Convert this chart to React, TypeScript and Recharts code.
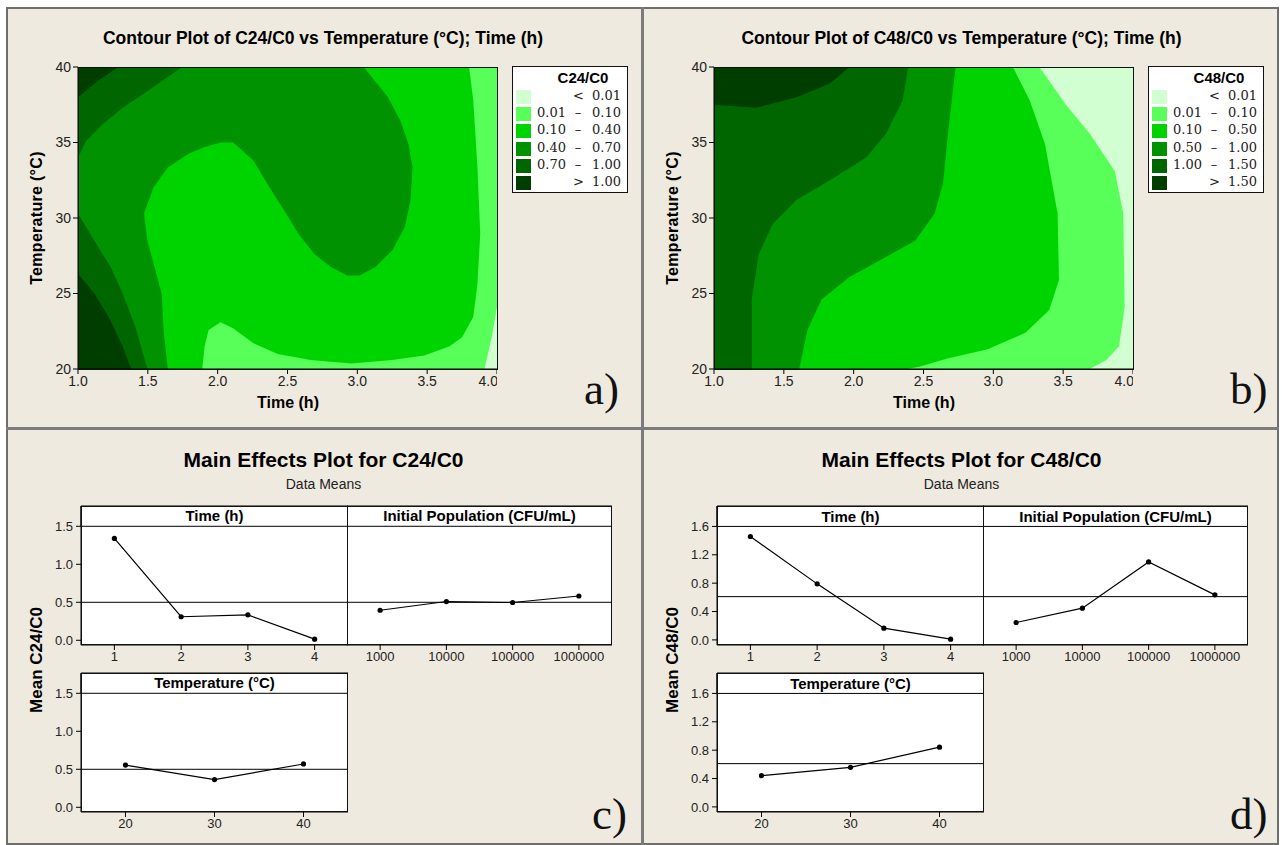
import React from 'react'
import {
  ComposedChart,
  LineChart,
  Line,
  Area,
  XAxis,
  YAxis,
  CartesianGrid,
  ReferenceArea,
  ReferenceLine,
} from 'recharts'

// ---- contour plot data (boundaries, Time h / Temperature °C) ----
const timeTicks = [1, 1.5, 2, 2.5, 3, 3.5, 4]
const tempTicks = [20, 25, 30, 35, 40]

const c24Labels = [
  ['', '<', '0.01'],
  ['0.01', '–', '0.10'],
  ['0.10', '–', '0.40'],
  ['0.40', '–', '0.70'],
  ['0.70', '–', '1.00'],
  ['', '>', '1.00'],
]
const c48Labels = [
  ['', '<', '0.01'],
  ['0.01', '–', '0.10'],
  ['0.10', '–', '0.50'],
  ['0.50', '–', '1.00'],
  ['1.00', '–', '1.50'],
  ['', '>', '1.50'],
]
const levelColors = ['#d2ffd2', '#58ff58', '#00d400', '#009200', '#006600', '#003e00']

// each region: the area at or above a contour level, as a closed outline
const fullRect = [[1, 20], [4, 20], [4, 40], [1, 40], [1, 20]]

const c24Above001 = [[1, 20], [3.91, 20], [3.96, 22], [4, 24.1], [4, 40], [1, 40], [1, 20]]
const c24Above010 = [
  [1, 20], [1.89, 20], [1.906, 21.47], [1.935, 22.58], [2.02, 23.1], [2.11, 22.7], [2.256, 21.7],
  [2.43, 21.0], [2.665, 20.6], [2.957, 20.37], [3.25, 20.6], [3.48, 20.9], [3.66, 21.5], [3.75, 22.1],
  [3.83, 23.45], [3.86, 25.65], [3.88, 28.95], [3.86, 33.35], [3.83, 37.8], [3.8, 40], [1, 40], [1, 20],
]
const c24Above040 = [
  [1, 20], [1.643, 20], [1.613, 22.58], [1.599, 25.0], [1.497, 28.5], [1.473, 30.3], [1.54, 32.0],
  [1.643, 33.35], [1.789, 34.24], [1.906, 34.7], [2.022, 35.0], [2.11, 35.0], [2.256, 33.8], [2.373, 32.0],
  [2.49, 30.3], [2.577, 28.95], [2.694, 27.6], [2.81, 26.75], [2.928, 26.2], [3.015, 26.2], [3.13, 26.75],
  [3.25, 27.85], [3.34, 29.4], [3.38, 31.15], [3.395, 33.35], [3.366, 34.9], [3.31, 36.4], [3.22, 38.0],
  [3.045, 40], [1, 40], [1, 20],
]
const c24Above070Low = [[1, 20], [1.497, 20], [1.41, 22.8], [1.32, 25.0], [1.234, 26.75], [1.117, 28.5], [1, 30.3], [1, 20]]
const c24Above070High = [[1, 34.0], [1.058, 35.1], [1.175, 36.2], [1.32, 37.3], [1.497, 38.4], [1.745, 40], [1, 40], [1, 34.0]]
const c24Above100Low = [[1, 20], [1.38, 20], [1.32, 21.5], [1.22, 23.45], [1.117, 25], [1, 26.3], [1, 20]]
const c24Above100High = [[1, 38.0], [1.146, 39.1], [1.29, 40], [1, 40], [1, 38.0]]

const c48Above001 = [
  [1, 20], [3.69, 20], [3.81, 20.6], [3.9, 21.5], [3.94, 24.1], [3.93, 30.3], [3.87, 33.1], [3.69, 35.6],
  [3.52, 37.5], [3.33, 40], [1, 40], [1, 20],
]
const c48Above010 = [
  [1, 20], [2.38, 20], [2.47, 20.15], [2.67, 20.7], [2.96, 21.3], [3.23, 22.4], [3.4, 23.9], [3.47, 25.9],
  [3.46, 30.3], [3.37, 34.9], [3.26, 37.8], [3.14, 40], [1, 40], [1, 20],
]
const c48Above050 = [
  [1, 20], [1.61, 20], [1.67, 22.6], [1.77, 24.6], [1.97, 26.1], [2.15, 27], [2.44, 28.5], [2.58, 30.3],
  [2.64, 32.3], [2.68, 36], [2.73, 40], [1, 40], [1, 20],
]
const c48Above100 = [
  [1, 20], [1.27, 20], [1.27, 24.6], [1.32, 27.6], [1.42, 29.6], [1.59, 31.2], [1.83, 32.5], [2.09, 34],
  [2.23, 35.56], [2.35, 37.76], [2.39, 40], [1, 40], [1, 20],
]
const c48Above150 = [[1, 37.5], [1.3, 37.3], [1.59, 38], [1.83, 38.9], [1.97, 40], [1, 40], [1, 37.5]]

// ---- main effects data ----
const timeLevels = [1, 2, 3, 4]
const popLabels = ['1000', '10000', '100000', '1000000']
const tempLevels = [20, 30, 40]

const c24Time = [1.34, 0.31, 0.335, 0.015]
const c24Pop = [0.395, 0.51, 0.497, 0.583]
const c24Temp = [0.555, 0.365, 0.57]
const c24Mean = 0.5

const c48Time = [1.458, 0.79, 0.165, 0.01]
const c48Pop = [0.245, 0.447, 1.1, 0.635]
const c48Temp = [0.44, 0.558, 0.842]
const c48Mean = 0.61

const sans = "'Liberation Sans', Arial, sans-serif"
const panelBg = '#efeadf'

const toPts = (poly: number[][]) => poly.map(([x, y]) => ({ x, y }))

type Region = { pts: number[][]; color: string }

const ContourPlot = ({ left, regions }: { left: number; regions: Region[] }) => (
  <ComposedChart
    width={459}
    height={352}
    margin={{ top: 10, right: 0, bottom: 0, left: 0 }}
    style={{ position: 'absolute', left: left - 40, top: 57 }}
  >
    <XAxis
      type="number"
      dataKey="x"
      domain={[1, 4]}
      ticks={timeTicks}
      tickFormatter={(v: number) => v.toFixed(1)}
      allowDataOverflow
      height={40}
      tickSize={5}
      tickMargin={2}
      stroke="#000"
      tick={{ fontSize: 14, fill: '#222', fontFamily: sans }}
    />
    <YAxis
      type="number"
      domain={[20, 40]}
      ticks={tempTicks}
      allowDataOverflow
      width={40}
      tickSize={5}
      tickMargin={2}
      stroke="#000"
      tick={{ fontSize: 14, fill: '#222', fontFamily: sans }}
    />
    {regions.map((r, i) => (
      <Area
        key={i}
        data={toPts(r.pts)}
        dataKey="y"
        type="linear"
        fill={r.color}
        fillOpacity={1}
        stroke="none"
        dot={false}
        activeDot={false}
        isAnimationActive={false}
      />
    ))}
  </ComposedChart>
)

const serif = "13px 'DejaVu Serif', serif"

const ContourLegend = ({ left, title, rows }: { left: number; title: string; rows: string[][] }) => (
  <div
    style={{
      position: 'absolute', left, top: 66, width: 116, height: 127, boxSizing: 'border-box',
      border: '1.5px solid #111', background: '#fff',
    }}
  >
    <div style={{ position: 'absolute', left: 12, width: 116, top: 2, textAlign: 'center', font: `bold 15px ${sans}` }}>
      {title}
    </div>
    {rows.map((r, i) => (
      <div key={i} style={{ position: 'absolute', top: 23 + i * 17.2, left: 0, width: 116, height: 14 }}>
        <div style={{ position: 'absolute', left: 3, top: 0, width: 15, height: 14, background: levelColors[i] }} />
        <div style={{ position: 'absolute', right: 63, top: -2, font: serif, color: '#222' }}>{r[0]}</div>
        <div style={{ position: 'absolute', left: 60, width: 10, textAlign: 'center', top: -2, font: serif, color: '#222' }}>{r[1]}</div>
        <div style={{ position: 'absolute', left: 79, top: -2, font: serif, color: '#222' }}>{r[2]}</div>
      </div>
    ))}
  </div>
)

type EffectProps = {
  left: number
  top: number
  width: number
  title: string
  xs: number[]
  ys: number[]
  xDomain: [number, number]
  xTicks: number[]
  fmt?: (v: number) => string
  yDomain: [number, number]
  yTicks: number[]
  headerFrom: number
  mean: number
  showY: boolean
}

const EffectPanel = (p: EffectProps) => {
  const data = p.xs.map((x, i) => ({ x, y: p.ys[i] }))
  const yw = p.showY ? 40 : 0
  const h = 139
  return (
    <>
      <LineChart
        width={p.width + yw}
        height={h + 38}
        data={data}
        margin={{ top: 8, right: 0, bottom: 0, left: 0 }}
        style={{ position: 'absolute', left: p.left - yw, top: p.top - 8 }}
      >
        <CartesianGrid horizontal={false} vertical={false} fill="#fff" />
        <XAxis
          type="number"
          dataKey="x"
          domain={p.xDomain}
          ticks={p.xTicks}
          tickFormatter={p.fmt}
          allowDataOverflow
          height={30}
          tickSize={5}
          tickMargin={2}
          stroke="#000"
          tick={{ fontSize: 13, fill: '#222', fontFamily: sans }}
        />
        <YAxis
          type="number"
          domain={p.yDomain}
          ticks={p.yTicks}
          tickFormatter={(v: number) => v.toFixed(1)}
          allowDataOverflow
          hide={!p.showY}
          width={40}
          tickSize={5}
          tickMargin={3}
          stroke="#000"
          tick={{ fontSize: 13, fill: '#222', fontFamily: sans }}
        />
        <ReferenceArea
          y1={p.headerFrom}
          y2={p.yDomain[1]}
          fill="#fff"
          fillOpacity={1}
          stroke="#000"
          strokeWidth={1}
          ifOverflow="visible"
          label={{ value: p.title, position: 'center', fill: '#000', fontSize: 15, fontWeight: 700, fontFamily: sans }}
        />
        <ReferenceLine y={p.mean} stroke="#000" strokeWidth={1} />
        <Line
          dataKey="y"
          type="linear"
          stroke="#000"
          strokeWidth={1.2}
          dot={{ r: 2.6, fill: '#000', stroke: '#000', strokeWidth: 0 }}
          activeDot={false}
          isAnimationActive={false}
        />
      </LineChart>
      <div
        style={{
          position: 'absolute', left: p.left, top: p.top, width: p.width, height: h,
          border: '1.5px solid #111', boxSizing: 'border-box', pointerEvents: 'none',
        }}
      />
    </>
  )
}

const popFmt = (v: number) => popLabels[v - 1] ?? ''
const popIdx = popLabels.map((_, i) => i + 1)

const Text = ({ style, children }: { style: React.CSSProperties; children: React.ReactNode }) => (
  <div style={{ position: 'absolute', whiteSpace: 'nowrap', ...style }}>{children}</div>
)

const PanelLetter = ({ left, top, ch }: { left: number; top: number; ch: string }) => (
  <Text style={{ left, top, font: "45px 'Liberation Serif', 'Times New Roman', serif", lineHeight: '45px', color: '#111' }}>
    {ch}
  </Text>
)

const App = () => {
  const c24Regions: Region[] = [
    { pts: fullRect, color: levelColors[0] },
    { pts: c24Above001, color: levelColors[1] },
    { pts: c24Above010, color: levelColors[2] },
    { pts: c24Above040, color: levelColors[3] },
    { pts: c24Above070Low, color: levelColors[4] },
    { pts: c24Above070High, color: levelColors[4] },
    { pts: c24Above100Low, color: levelColors[5] },
    { pts: c24Above100High, color: levelColors[5] },
  ]
  const c48Regions: Region[] = [
    { pts: fullRect, color: levelColors[0] },
    { pts: c48Above001, color: levelColors[1] },
    { pts: c48Above010, color: levelColors[2] },
    { pts: c48Above050, color: levelColors[3] },
    { pts: c48Above100, color: levelColors[4] },
    { pts: c48Above150, color: levelColors[5] },
  ]
  const dom24: [number, number] = [-0.062, 1.767]
  const dom48: [number, number] = [-0.072, 1.888]
  const ticks24 = [0, 0.5, 1, 1.5]
  const ticks48 = [0, 0.4, 0.8, 1.2, 1.6]

  const ctTitle = `bold 17.5px ${sans}`
  const axTitle = `bold 16px ${sans}`
  const meTitle = `bold 21px ${sans}`

  return (
    <div style={{ position: 'absolute', left: 0, top: 0, width: 1282, height: 845, background: '#fff', fontFamily: sans }}>
      {/* panel backgrounds and frame */}
      <div style={{ position: 'absolute', left: 6, top: 7, width: 1273, height: 838, background: panelBg, border: '2px solid #6e6e6e', boxSizing: 'border-box' }} />
      <div style={{ position: 'absolute', left: 641, top: 7, width: 3, height: 838, background: '#7b7b7b' }} />
      <div style={{ position: 'absolute', left: 6, top: 427, width: 1273, height: 3, background: '#7b7b7b' }} />

      {/* a) */}
      <Text style={{ left: 0, width: 646, top: 28, textAlign: 'center', font: ctTitle }}>
        Contour Plot of C24/C0 vs Temperature (°C); Time (h)
      </Text>
      <ContourPlot left={78} regions={c24Regions} />
      <div style={{ position: 'absolute', left: 78, top: 67, width: 420, height: 303, border: '1px solid #111', boxSizing: 'border-box' }} />
      <Text style={{ left: 78, width: 420, top: 394, textAlign: 'center', font: axTitle }}>Time (h)</Text>
      <Text style={{ left: 37, top: 218, transform: 'translate(-50%, -50%) rotate(-90deg)', font: axTitle, letterSpacing: '0.3px' }}>
        Temperature (°C)
      </Text>
      <ContourLegend left={512} title="C24/C0" rows={c24Labels} />
      <PanelLetter left={584} top={367} ch="a)" />

      {/* b) */}
      <Text style={{ left: 641, width: 641, top: 28, textAlign: 'center', font: ctTitle }}>
        Contour Plot of C48/C0 vs Temperature (°C); Time (h)
      </Text>
      <ContourPlot left={714} regions={c48Regions} />
      <div style={{ position: 'absolute', left: 714, top: 67, width: 420, height: 303, border: '1px solid #111', boxSizing: 'border-box' }} />
      <Text style={{ left: 714, width: 420, top: 394, textAlign: 'center', font: axTitle }}>Time (h)</Text>
      <Text style={{ left: 673, top: 218, transform: 'translate(-50%, -50%) rotate(-90deg)', font: axTitle, letterSpacing: '0.3px' }}>
        Temperature (°C)
      </Text>
      <ContourLegend left={1148} title="C48/C0" rows={c48Labels} />
      <PanelLetter left={1230} top={367} ch="b)" />

      {/* c) */}
      <Text style={{ left: 0, width: 647, top: 448, textAlign: 'center', font: meTitle }}>
        Main Effects Plot for C24/C0
      </Text>
      <Text style={{ left: 0, width: 647, top: 476, textAlign: 'center', font: `14px ${sans}`, color: '#222' }}>Data Means</Text>
      <Text style={{ left: 37, top: 660, transform: 'translate(-50%, -50%) rotate(-90deg)', font: `bold 17px ${sans}` }}>
        Mean C24/C0
      </Text>
      <EffectPanel left={81} top={506} width={267} title="Time (h)" xs={timeLevels} ys={c24Time}
        xDomain={[0.5, 4.5]} xTicks={timeLevels} yDomain={dom24} yTicks={ticks24} headerFrom={1.5} mean={c24Mean} showY />
      <EffectPanel left={347} top={506} width={265} title="Initial Population (CFU/mL)" xs={popIdx} ys={c24Pop}
        xDomain={[0.5, 4.5]} xTicks={popIdx} fmt={popFmt} yDomain={dom24} yTicks={ticks24} headerFrom={1.5} mean={c24Mean} showY={false} />
      <EffectPanel left={81} top={673} width={267} title="Temperature (°C)" xs={tempLevels} ys={c24Temp}
        xDomain={[15, 45]} xTicks={tempLevels} yDomain={dom24} yTicks={ticks24} headerFrom={1.5} mean={c24Mean} showY />
      <PanelLetter left={592} top={792} ch="c)" />

      {/* d) */}
      <Text style={{ left: 641, width: 641, top: 448, textAlign: 'center', font: meTitle }}>
        Main Effects Plot for C48/C0
      </Text>
      <Text style={{ left: 641, width: 641, top: 476, textAlign: 'center', font: `14px ${sans}`, color: '#222' }}>Data Means</Text>
      <Text style={{ left: 673, top: 660, transform: 'translate(-50%, -50%) rotate(-90deg)', font: `bold 17px ${sans}` }}>
        Mean C48/C0
      </Text>
      <EffectPanel left={717} top={506} width={267} title="Time (h)" xs={timeLevels} ys={c48Time}
        xDomain={[0.5, 4.5]} xTicks={timeLevels} yDomain={dom48} yTicks={ticks48} headerFrom={1.6} mean={c48Mean} showY />
      <EffectPanel left={983} top={506} width={265} title="Initial Population (CFU/mL)" xs={popIdx} ys={c48Pop}
        xDomain={[0.5, 4.5]} xTicks={popIdx} fmt={popFmt} yDomain={dom48} yTicks={ticks48} headerFrom={1.6} mean={c48Mean} showY={false} />
      <EffectPanel left={717} top={673} width={267} title="Temperature (°C)" xs={tempLevels} ys={c48Temp}
        xDomain={[15, 45]} xTicks={tempLevels} yDomain={dom48} yTicks={ticks48} headerFrom={1.6} mean={c48Mean} showY />
      <PanelLetter left={1230} top={792} ch="d)" />
    </div>
  )
}

export default App
